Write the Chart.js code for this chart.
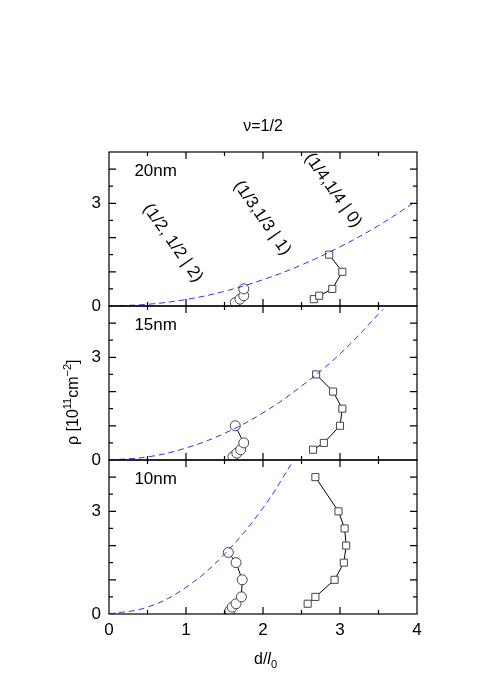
<!DOCTYPE html>
<html>
<head>
<meta charset="utf-8">
<script src="https://cdn.jsdelivr.net/npm/chart.js@4"></script>
<style>
  body { margin:0; background:#fff; }
  #wrap { width:490px; height:692px; }
</style>
</head>
<body>
<div id="wrap"><canvas id="c"></canvas></div>
<script>
// ===== data =====
// panel 20nm (top)
const sq20 = [[2.66,0.2],[2.73,0.3],[2.9,0.5],[3.03,1.0],[2.86,1.5]];
const ci20 = [[1.64,0.1],[1.70,0.2],[1.75,0.3],[1.75,0.5]];
const cu20 = [[0,0],[0.5,0.05],[1,0.19],[1.5,0.43],[2,0.77],[2.5,1.2],[3,1.73],[3.5,2.35],[4,3.08]];
// panel 15nm (middle)
const sq15 = [[2.65,0.3],[2.79,0.5],[3.0,1.0],[3.03,1.5],[2.91,2.0],[2.69,2.5]];
const ci15 = [[1.61,0.1],[1.66,0.2],[1.71,0.3],[1.75,0.5],[1.64,1.0]];
const cu15 = [[0,0],[0.5,0.09],[1,0.35],[1.5,0.78],[2,1.38],[2.5,2.16],[3,3.1],[3.56,4.4]];
// panel 10nm (bottom)
const sq10 = [[2.58,0.3],[2.68,0.5],[2.93,1.0],[3.05,1.5],[3.08,2.0],[3.06,2.5],[2.98,3.0],[2.68,4.0]];
const ci10 = [[1.57,0.1],[1.60,0.2],[1.65,0.3],[1.72,0.5],[1.73,1.0],[1.65,1.5],[1.55,1.8]];
const cu10 = [[0,0],[0.5,0.2],[1,0.78],[1.5,1.75],[2,3.1],[2.4,4.5]];

const panelNames = ['20nm','15nm','10nm'];
const stateLabels = ['(1/2, 1/2 | 2)','(1/3,1/3 | 1)','(1/4,1/4 | 0)'];
const yTickLabels = [0,1,2,3,4];
const xTickLabels = [0,1,2,3,4];

const FONT = 'Liberation Sans, Arial, sans-serif';
const pts = a => a.map(p => ({x:p[0], y:p[1]}));

function marks(arr, ax, style) {
  return {
    data: pts(arr), yAxisID: ax, showLine: true,
    borderColor: '#000', borderWidth: 1,
    pointStyle: style, pointRadius: 5, pointHoverRadius: 5,
    pointBackgroundColor: '#fff', pointBorderColor: '#444', pointBorderWidth: 1
  };
}
function curve(arr, ax) {
  return {
    data: pts(arr), yAxisID: ax, showLine: true, tension: 0.4,
    borderColor: '#3333dd', borderWidth: 1, borderDash: [6, 4], pointRadius: 0
  };
}

function yScale() {
  return {
    type: 'linear', position: 'left', stack: 'p', stackWeight: 1, offset: false,
    min: 0, max: 4.5,
    afterFit: s => { s.width = 109; },
    afterBuildTicks: s => { s.ticks = []; for (let v = 0; v <= 4; v += 0.5) s.ticks.push({value: v}); },
    ticks: {
      color: '#000', font: {family: FONT, size: 17}, padding: 8,
      callback: v => yTickLabels.includes(v) ? String(v) : ''
    },
    grid: {display: false, drawTicks: false}, border: {display: false}
  };
}

// ===== frames, inward ticks, texts =====
const decor = {
  id: 'decor',
  afterDraw(chart) {
    const ctx = chart.ctx, ca = chart.chartArea, xs = chart.scales.x;
    ctx.save();
    ctx.strokeStyle = '#000'; ctx.lineWidth = 1.2;
    ['y20','y15','y10'].forEach((id, i) => {
      const s = chart.scales[id];
      ctx.strokeRect(ca.left, s.top, ca.right - ca.left, s.bottom - s.top);
      ctx.beginPath();
      for (let v = 0.5; v < 4.5; v += 0.5) {
        const py = s.getPixelForValue(v), len = Number.isInteger(v) ? 7 : 4;
        ctx.moveTo(ca.left, py); ctx.lineTo(ca.left + len, py);
        ctx.moveTo(ca.right, py); ctx.lineTo(ca.right - len, py);
      }
      for (let v = 0.5; v < 4; v += 0.5) {
        const px = xs.getPixelForValue(v), len = Number.isInteger(v) ? 7 : 4;
        ctx.moveTo(px, s.bottom); ctx.lineTo(px, s.bottom - len);
        ctx.moveTo(px, s.top); ctx.lineTo(px, s.top + len);
      }
      ctx.stroke();
      ctx.fillStyle = '#000'; ctx.font = '17px ' + FONT;
      ctx.textAlign = 'left'; ctx.textBaseline = 'middle';
      ctx.fillText(panelNames[i], xs.getPixelForValue(0.33), s.getPixelForValue(3.95));
    });
    ctx.fillStyle = '#000';
    ctx.textAlign = 'center'; ctx.textBaseline = 'middle';
    ctx.font = '16px ' + FONT;
    ctx.fillText('\u03bd=1/2', (ca.left + ca.right) / 2, 127);
    // rotated state labels in the top panel
    const y20 = chart.scales.y20;
    const pos = [[0.83, 1.84], [1.99, 2.57], [2.91, 3.38]];
    ctx.font = '17px ' + FONT;
    stateLabels.forEach((t, i) => {
      ctx.save();
      ctx.translate(xs.getPixelForValue(pos[i][0]), y20.getPixelForValue(pos[i][1]));
      ctx.rotate(55 * Math.PI / 180);
      ctx.fillText(t, 0, 0);
      ctx.restore();
    });
    // y title
    ctx.save();
    ctx.translate(74, 383);
    ctx.rotate(-Math.PI / 2);
    ctx.textAlign = 'left';
    let x0 = -62;
    const part = (txt, size, dy) => { ctx.font = size + 'px ' + FONT; ctx.fillText(txt, x0, dy); x0 += ctx.measureText(txt).width; };
    part('\u03c1 [10', 16, 0); part('11', 11, -6); part('cm', 16, 0); part('\u22122', 11, -6); part(']', 16, 0);
    ctx.restore();
    // x title
    ctx.textAlign = 'left';
    let xx = 254; const yy = 660;
    ctx.font = '16px ' + FONT; ctx.fillText('d/', xx, yy); xx += ctx.measureText('d/').width;
    ctx.font = 'italic 16px ' + FONT; ctx.fillText('l', xx, yy); xx += ctx.measureText('l').width;
    ctx.font = '11px ' + FONT; ctx.fillText('0', xx, yy + 5);
    ctx.restore();
  }
};

new Chart(document.getElementById('c'), {
  type: 'scatter',
  data: {
    datasets: [
      curve(cu20, 'y20'), marks(sq20, 'y20', 'rect'), marks(ci20, 'y20', 'circle'),
      curve(cu15, 'y15'), marks(sq15, 'y15', 'rect'), marks(ci15, 'y15', 'circle'),
      curve(cu10, 'y10'), marks(sq10, 'y10', 'rect'), marks(ci10, 'y10', 'circle')
    ]
  },
  options: {
    responsive: true, maintainAspectRatio: false, animation: false,
    layout: {padding: {left: 0, right: 73, top: 152, bottom: 0}},
    plugins: {legend: {display: false}, tooltip: {enabled: false}},
    scales: {
      x: {
        type: 'linear', min: 0, max: 4,
        afterFit: s => { s.height = 78; },
        afterBuildTicks: s => { s.ticks = xTickLabels.map(v => ({value: v})); },
        ticks: {color: '#000', font: {family: FONT, size: 17}, padding: 6},
        grid: {display: false, drawTicks: false}, border: {display: false}
      },
      y10: yScale(), y15: yScale(), y20: yScale()
    }
  },
  plugins: [decor]
});
</script>
</body>
</html>
